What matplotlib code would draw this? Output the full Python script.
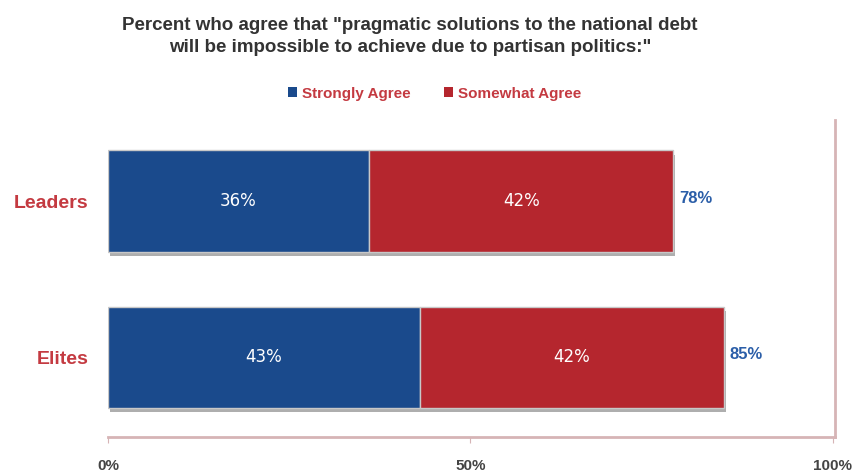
import matplotlib
matplotlib.use("Agg")
import matplotlib.pyplot as plt
import matplotlib.patheffects as pe
from matplotlib.patches import Patch

groups = ["Leaders", "Elites"]
strongly = [36, 43]
somewhat = [42, 42]
totals = [78, 85]
xticks = [0, 50, 100]
xtick_labels = ["0%", "50%", "100%"]

blue = "#1a4a8c"
red = "#b5262e"
label_red = "#c43a41"
label_blue = "#2b5ea8"
spine_col = "#d6b4b6"

plt.rcParams["font.family"] = ["Liberation Sans", "DejaVu Sans"]

fig = plt.figure(figsize=(8.6, 4.75), dpi=100)
ax = fig.add_axes([108 / 860, 1 - 437 / 475, (835 - 108) / 860, (437 - 120) / 475])

ypos = [1, 0]
shadow = [pe.SimplePatchShadow(offset=(1.5, -3), shadow_rgbFace="#9a9a9a", alpha=0.8), pe.Normal()]

ax.barh(ypos, strongly, height=0.65, color=blue, edgecolor="#c8c8c8", linewidth=1.0,
        path_effects=shadow)
ax.barh(ypos, somewhat, left=strongly, height=0.65, color=red, edgecolor="#c8c8c8",
        linewidth=1.0, path_effects=shadow)

for y, s, w, t in zip(ypos, strongly, somewhat, totals):
    ax.text(s / 2, y, f"{s}%", ha="center", va="center", color="white", fontsize=12,
            family=["DejaVu Sans"])
    ax.text(s + w / 2, y, f"{w}%", ha="center", va="center", color="white", fontsize=12,
            family=["DejaVu Sans"])
    ax.text(s + w + 0.8, y + 0.02, f"{t}%", ha="left", va="center", color=label_blue,
            fontsize=12, fontweight="bold")

ax.set_xlim(0, 100.3)
ax.set_ylim(-0.51, 1.52)
ax.set_yticks(ypos)
ax.set_yticklabels(groups, color=label_red, fontsize=14, fontweight="bold")
ax.tick_params(axis="y", length=0, pad=14)
ax.set_xticks(xticks)
ax.set_xticklabels(xtick_labels, color="#444444", fontsize=11, fontweight="bold")
ax.tick_params(axis="x", length=4, color=spine_col, pad=12)

for side in ["top", "left"]:
    ax.spines[side].set_visible(False)
for side in ["bottom", "right"]:
    ax.spines[side].set_color(spine_col)
    ax.spines[side].set_linewidth(2)

fig.text(0.477, 0.965, 'Percent who agree that "pragmatic solutions to the national debt\n'
         'will be impossible to achieve due to partisan politics:"',
         ha="center", va="top", fontsize=13.5, fontweight="bold", color="#333333",
         linespacing=1.45)

handles = [Patch(facecolor=blue), Patch(facecolor=red)]
leg = fig.legend(handles, ["Strongly Agree", "Somewhat Agree"], loc="center",
                 bbox_to_anchor=(0.505, 0.803), ncol=2, frameon=False, fontsize=11,
                 handlelength=0.6, handleheight=0.6, handletextpad=0.3, columnspacing=2.2)
for txt in leg.get_texts():
    txt.set_color(label_red)
    txt.set_fontweight("bold")

fig.savefig("out.png", dpi=100)
